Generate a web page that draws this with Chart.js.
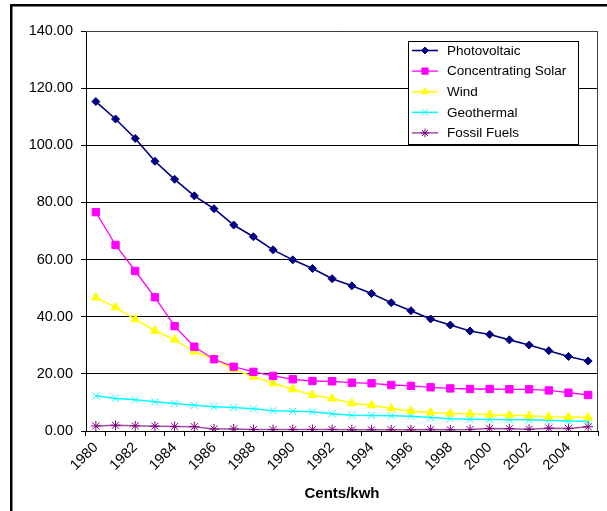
<!DOCTYPE html>
<html>
<head>
<meta charset="utf-8">
<script src="https://cdn.jsdelivr.net/npm/chart.js@4/dist/chart.umd.min.js"></script>
<style>
  html, body { margin: 0; padding: 0; background: #ffffff; }
  canvas { display: block; }
</style>
</head>
<body>
<canvas id="chart" width="607" height="511"></canvas>
<script>
// Electricity cost by generation technology, cents per kWh
const years = ['1980','1981','1982','1983','1984','1985','1986','1987','1988','1989','1990','1991','1992',
               '1993','1994','1995','1996','1997','1998','1999','2000','2001','2002','2003','2004','2005'];
const photovoltaic = [115.3,109.2,102.4,94.4,88.1,82.3,77.8,72.1,68.0,63.4,59.9,56.9,53.3,
                      50.8,48.1,44.9,42.1,39.2,37.1,35.0,33.8,31.9,30.1,28.1,26.1,24.5];
const concentratingSolar = [76.6,65.1,56.0,46.8,36.7,29.5,25.1,22.5,20.7,19.3,18.1,17.5,17.4,
                            16.9,16.7,16.1,15.8,15.3,14.9,14.7,14.7,14.6,14.6,14.2,13.4,12.6];
const wind = [46.7,43.3,39.1,35.1,32.0,27.8,25.2,21.6,19.0,16.7,14.6,12.6,11.4,
              9.7,9.0,7.9,7.0,6.5,6.1,6.0,5.7,5.5,5.3,5.0,4.9,4.7];
const geothermal = [12.3,11.4,10.9,10.2,9.6,9.0,8.5,8.2,7.8,7.1,6.9,6.7,6.0,
                    5.5,5.4,5.3,5.2,4.7,4.3,4.1,4.0,3.9,3.9,3.8,3.5,3.4];
const fossilFuels = [1.75,2.0,1.8,1.7,1.6,1.5,0.7,0.7,0.5,0.5,0.5,0.5,0.5,
                     0.4,0.4,0.4,0.4,0.5,0.4,0.5,0.9,0.8,0.6,1.0,0.9,1.5];
const yTicks = { min: 0, max: 140, step: 20 };
const axisTitle = 'Cents/kwh';

const FONT = "'Liberation Sans', Arial, sans-serif";

function series(label, data, line, marker, style, radius, width) {
  return {
    label, data,
    borderColor: line,
    backgroundColor: marker,
    borderWidth: width,
    pointStyle: style,
    pointRadius: radius,
    pointBackgroundColor: marker,
    pointBorderColor: marker,
    pointBorderWidth: 1,
    tension: 0,
    fill: false
  };
}

const datasets = [
  series('Photovoltaic', photovoltaic, '#000080', '#000080', 'rectRot', 4, 1.6),
  series('Concentrating Solar', concentratingSolar, '#ff00ff', '#ff00ff', 'rect', 5.2, 1.3),
  series('Wind', wind, '#ffff00', '#ffff00', 'triangle', 5, 1.5),
  series('Geothermal', geothermal, '#00ffff', '#00ffff', 'crossRot', 5, 1.5),
  series('Fossil Fuels', fossilFuels, '#a050a0', '#800080', 'star', 5, 1.5)
];

// Outer frame and plot-area border
const framePlugin = {
  id: 'frame',
  beforeDraw(chart) {
    const ctx = chart.ctx;
    ctx.save();
    ctx.fillStyle = '#ffffff';
    ctx.fillRect(0, 0, chart.width, chart.height);
    ctx.strokeStyle = '#000000';
    ctx.lineWidth = 2.5;
    ctx.beginPath();
    ctx.moveTo(11.25, chart.height + 2);
    ctx.lineTo(11.25, 5.25);
    ctx.lineTo(chart.width + 2, 5.25);
    ctx.stroke();
    ctx.restore();
  },
  afterDatasetsDraw(chart) {
    const { ctx, chartArea: a } = chart;
    ctx.save();
    ctx.strokeStyle = '#404040';
    ctx.lineWidth = 1;
    ctx.beginPath();
    ctx.moveTo(a.left, a.top + 0.5);
    ctx.lineTo(a.right - 0.5, a.top + 0.5);
    ctx.lineTo(a.right - 0.5, a.bottom);
    ctx.stroke();
    ctx.restore();
  }
};

// Boxed legend drawn inside the plot area
const boxLegendPlugin = {
  id: 'boxLegend',
  afterDraw(chart) {
    const ctx = chart.ctx;
    const x0 = 408, y0 = 41, w = 170, h = 103;
    const rowTop = 50.5, rowGap = 20.6;
    ctx.save();
    ctx.fillStyle = '#ffffff';
    ctx.fillRect(x0, y0, w, h);
    ctx.strokeStyle = '#000000';
    ctx.lineWidth = 1;
    ctx.strokeRect(x0 + 0.5, y0 + 0.5, w, h);
    chart.data.datasets.forEach((ds, i) => {
      const y = rowTop + i * rowGap;
      ctx.strokeStyle = ds.borderColor;
      ctx.lineWidth = ds.borderWidth;
      ctx.beginPath();
      ctx.moveTo(412, y);
      ctx.lineTo(438, y);
      ctx.stroke();
      ctx.fillStyle = ds.pointBackgroundColor;
      ctx.strokeStyle = ds.pointBorderColor;
      ctx.lineWidth = 1;
      Chart.helpers.drawPoint(ctx, {
        pointStyle: ds.pointStyle,
        radius: ds.pointRadius * 0.85,
        borderWidth: 1,
        rotation: 0
      }, 425, y);
      ctx.fillStyle = '#000000';
      ctx.font = '13.5px ' + FONT;
      ctx.textAlign = 'left';
      ctx.textBaseline = 'middle';
      ctx.fillText(ds.label, 447, y + 0.5);
    });
    ctx.restore();
  }
};

new Chart(document.getElementById('chart'), {
  type: 'line',
  data: { labels: years, datasets },
  options: {
    responsive: false,
    animation: false,
    devicePixelRatio: 1,
    layout: { padding: { top: 31, right: 9, bottom: 0, left: 0 } },
    plugins: {
      legend: { display: false },
      tooltip: { enabled: false },
      title: { display: false }
    },
    scales: {
      x: {
        type: 'category',
        offset: true,
        grid: {
          offset: true,
          drawOnChartArea: false,
          drawTicks: true,
          tickLength: 5,
          color: '#000000'
        },
        border: { color: '#000000', width: 1 },
        ticks: {
          autoSkip: false,
          minRotation: 45,
          maxRotation: 45,
          padding: 3,
          color: '#000000',
          font: { family: FONT, size: 14.5 },
          callback: (v, i) => (i % 2 === 0 ? years[i] : '')
        },
        title: {
          display: true,
          text: axisTitle,
          color: '#000000',
          font: { family: FONT, size: 15, weight: 'bold' },
          padding: { top: 0, bottom: 8 }
        },
        afterFit(scale) { scale.height = 80; }
      },
      y: {
        min: yTicks.min,
        max: yTicks.max,
        grid: {
          color: '#000000',
          lineWidth: 1,
          drawTicks: true,
          tickLength: 5
        },
        border: { color: '#000000', width: 1 },
        ticks: {
          stepSize: yTicks.step,
          padding: 8,
          color: '#000000',
          font: { family: FONT, size: 14.5 },
          callback: v => Number(v).toFixed(2)
        },
        afterFit(scale) { scale.width = 86; }
      }
    }
  },
  plugins: [framePlugin, boxLegendPlugin]
});
</script>
</body>
</html>
